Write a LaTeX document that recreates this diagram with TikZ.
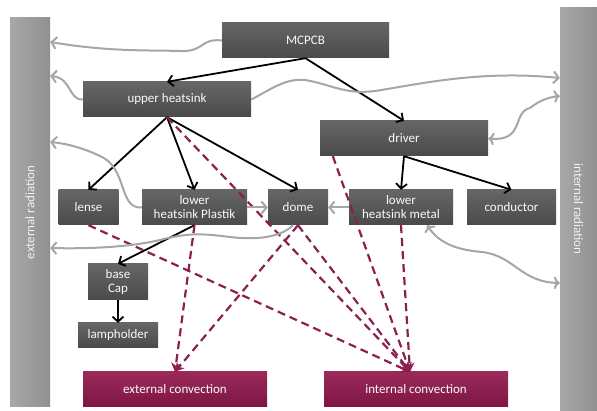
\documentclass[tikz,border=0pt]{standalone}
\usepackage{fontspec}
\setmainfont{Carlito}
\usepackage{tikz}
\usetikzlibrary{arrows.meta,shapes,positioning}

\definecolor{boxtop}{HTML}{666666}
\definecolor{boxbot}{HTML}{4A4A4A}
\definecolor{convtop}{HTML}{9A2A5A}
\definecolor{convbot}{HTML}{7E1544}
\definecolor{bartop}{HTML}{A8A8A8}
\definecolor{barbot}{HTML}{909090}
\definecolor{radgray}{HTML}{A6A6A6}
\definecolor{convline}{HTML}{8B1F50}

\begin{document}
\begin{tikzpicture}[x=1pt,y=-1pt]
  \tikzset{
  	box/.style={rectangle, top color=boxtop, bottom color=boxbot, text=white!95!gray,
  	  font=\fontsize{13}{14}\selectfont, align=center, inner sep=0pt, minimum height=35pt},
  	convbox/.style={box, top color=convtop, bottom color=convbot},
  	radbar/.style={rectangle, left color=bartop, right color=barbot, text=white!90!gray,
  	  font=\fontsize{13}{14}\selectfont, inner sep=0pt},
  	heat/.style={line width=1.8pt, -{Straight Barb[length=5pt,width=11pt]}},
  	conv/.style={convline, line width=2.2pt, dash pattern=on 8pt off 5pt, -{Stealth[length=9pt,width=10pt]}},
  	rad/.style={radgray, line width=2pt, -{Straight Barb[length=5pt,width=12pt]}},
  }
  \useasboundingbox (0,0) rectangle (597,411);

  % The two radiation bars at the sides.
  \node[radbar, minimum width=40pt, minimum height=389pt] (extrad) at (30,212.5)
    {\rotatebox{90}{external radiation}};
  \node[radbar, minimum width=37pt, minimum height=402pt] (intrad) at (578.5,209)
    {\rotatebox{-90}{internal radiation}};

  % The parts of the lamp.
  \node[box, minimum width=167pt] (mcpcb) at (305.5,40.5) {MCPCB};
  \node[box, minimum width=168pt] (upper) at (167,99.5) {upper heatsink};
  \node[box, minimum width=168pt] (driver) at (404,138.5) {driver};
  \node[box, minimum width=60pt] (lense) at (88.5,207.5) {lense};
  \node[box, minimum width=105pt] (lowerpl) at (194.5,207.5) {lower\\heatsink Plastik};
  \node[box, minimum width=60pt] (dome) at (298,207.5) {dome};
  \node[box, minimum width=104pt] (lowerme) at (401,207.5) {lower\\heatsink metal};
  \node[box, minimum width=89pt] (conductor) at (511.5,207.5) {conductor};
  \node[box, minimum width=60pt, minimum height=36pt] (basecap) at (118,282) {base\\Cap};
  \node[box, minimum width=80pt, minimum height=25pt] (lampholder) at (118,335.5) {lampholder};

  % Convection boxes at the bottom.
  \node[convbox, minimum width=184pt] (extconv) at (175,389.5) {external convection};
  \node[convbox, minimum width=184pt] (intconv) at (416,389.5) {internal convection};
  \coordinate (icin) at ([xshift=-6pt]intconv.north);

  % Conduction, black arrows.
  \draw[heat] (mcpcb.south) -- (upper.north);
  \draw[heat] (mcpcb.south) -- (driver.north);
  \draw[heat] (upper.south) -- (lense.north);
  \draw[heat] (upper.south) -- (lowerpl.north);
  \draw[heat] (upper.south) -- (dome.north);
  \draw[heat] (driver.south) -- (lowerme.north);
  \draw[heat] (driver.south) -- (conductor.north);
  \draw[heat] (lowerpl.south) -- (basecap.north);
  \draw[heat] (basecap.south) -- (lampholder.north);

  % Convection, dashed arrows.
  \draw[conv] (lowerpl.south) -- (extconv.north);
  \draw[conv] (dome.south) -- (extconv.north);
  \draw[conv] (lense.south) -- (icin);
  \draw[conv] (upper.south) -- (icin);
  \draw[conv] (dome.south) -- (icin);
  \draw[conv] ([xshift=13pt]driver.south west) -- (icin);
  \draw[conv] (lowerme.south) -- (icin);

  % Radiation, grey wavy arrows.
  \draw[rad] (mcpcb.west) .. controls (200,38) and (205,52) .. (180,51)
    .. controls (150,50) and (110,52) .. (extrad.east |- 0,42);
  \draw[rad] (upper.west) .. controls (68,100) and (72,78) .. (extrad.east |- 0,76);
  \draw[rad] (upper.east) .. controls (270,90) and (285,78) .. (305,80)
    .. controls (330,84) and (345,95) .. (375,91)
    .. controls (420,84) and (480,70) .. (intrad.west |- 0,78);
  \draw[rad, <->] (driver.east) .. controls (525,142) and (512,112) .. (530,108)
    .. controls (540,100) and (550,97) .. (intrad.west |- 0,96);
  \draw[rad] (lowerpl.west) .. controls (118,209) and (128,168) .. (100,156)
    .. controls (85,149) and (70,144) .. (extrad.east |- 0,142);
  \draw[rad] (lowerpl.east) -- (dome.west);
  \draw[rad] (lowerme.west) -- (dome.east);
  \draw[rad] ([xshift=-5pt]dome.south) .. controls (280,238) and (255,240) .. (230,237)
    .. controls (205,234) and (190,232) .. (160,240)
    .. controls (130,247) and (90,249) .. (extrad.east |- 0,248);
  \draw[rad, <->] ([xshift=-26pt]lowerme.south east) .. controls (440,245) and (460,250) .. (482,252)
    .. controls (515,256) and (520,282) .. (intrad.west |- 0,283);
\end{tikzpicture}
\end{document}
